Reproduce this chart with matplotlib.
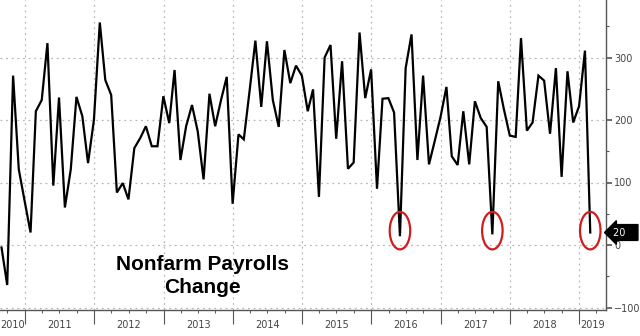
import matplotlib
matplotlib.use('Agg')
import matplotlib.pyplot as plt
import matplotlib.dates as mdates
from matplotlib.patches import Ellipse
import matplotlib.transforms as mtransforms
import pandas as pd

# monthly nonfarm payrolls change (thousands), Aug 2010 - Feb 2019
start_month = '2010-08-31'
payrolls = [
    -4, -64, 271, 121, 70,
    20, 214, 232, 323, 95, 236, 60, 121, 237, 206, 131, 200,
    356, 264, 240, 84, 99, 73, 155, 171, 190, 158, 158, 238,
    195, 280, 136, 190, 224, 182, 105, 242, 190, 232, 269, 66,
    177, 169, 248, 327, 221, 326, 232, 189, 312, 259, 287, 271,
    214, 249, 77, 300, 320, 170, 294, 122, 132, 340, 235, 281,
    90, 234, 235, 212, 14, 283, 337, 136, 271, 129, 166, 205,
    253, 142, 128, 214, 129, 230, 203, 189, 17, 262, 217, 175,
    173, 331, 183, 196, 271, 263, 178, 283, 109, 278, 196, 222,
    311, 20,
]
circled = [69, 85, 102]
last_label = '20'
title_lines = ['Nonfarm Payrolls', 'Change']
years = list(range(2010, 2020))

dates = pd.date_range(start_month, periods=len(payrolls), freq='ME')

fig = plt.figure(figsize=(6.4, 3.36), dpi=100)
ax = fig.add_axes([0, 26 / 336, 606 / 640, 310 / 336])

x_lo = pd.Timestamp('2010-08-23')
x_hi = pd.Timestamp('2019-05-22')
ax.set_xlim(x_lo, x_hi)
ax.set_ylim(-104, 392)

ax.plot(dates, payrolls, color='black', lw=1.6, solid_joinstyle='miter', zorder=3)

# grid
for yv in [-100, 0, 100, 200, 300]:
    ax.axhline(yv, color='#b8b8b8', lw=0.9, ls=(0, (1.5, 3)), zorder=1)
for yr in years[1:]:
    ax.axvline(pd.Timestamp(f'{yr}-01-01'), color='#b8b8b8', lw=0.9, ls=(0, (1.5, 3)), zorder=1)

# circles around the weak prints
for i in circled:
    ax.add_patch(Ellipse((mdates.date2num(dates[i]), 23), width=108, height=60,
                         fill=False, ec='#d01c1c', lw=1.6, zorder=4))

# spines and ticks
for s in ['top', 'left']:
    ax.spines[s].set_visible(False)
for s in ['right', 'bottom']:
    ax.spines[s].set_color('#555555')
    ax.spines[s].set_linewidth(1.0)

ax.yaxis.tick_right()
ax.set_yticks([-100, 0, 100, 200, 300])
ax.set_yticks([-50, 50, 150, 250, 350], minor=True)
ax.tick_params(axis='y', which='major', length=4, width=1.2, color='#555555',
               labelsize=7, labelcolor='#444444', pad=2)
ax.tick_params(axis='y', which='minor', length=2.5, width=0.8, color='#555555')

ax.set_xticks([pd.Timestamp(f'{y}-01-01') for y in years[1:]])
ax.set_xticks(pd.date_range('2010-10-01', '2019-04-01', freq='QS'), minor=True)
ax.tick_params(axis='x', which='major', length=10, width=0.8, color='#555555', labelbottom=False)
ax.tick_params(axis='x', which='minor', length=2.5, width=0.7, color='#555555')

# year labels centred on the visible part of each year
for yr in years:
    a = max(pd.Timestamp(f'{yr}-01-01'), x_lo)
    b = min(pd.Timestamp(f'{yr + 1}-01-01'), x_hi)
    mid = a + (b - a) / 2
    ax.text(mid, -0.05, str(yr), transform=ax.get_xaxis_transform(),
            ha='center', va='center', fontsize=7, color='#444444')

# last value tag
trans = mtransforms.blended_transform_factory(ax.transAxes, ax.transData)
ax.text(1.012, payrolls[-1], last_label + '   ', transform=trans, ha='left', va='center',
        fontsize=7, color='white',
        bbox=dict(boxstyle='larrow,pad=0.3', fc='black', ec='black'))

for k, line in enumerate(title_lines):
    fig.text(202 / 640, 1 - (270 + 23 * k) / 336, line, ha='center', va='baseline',
             fontsize=15, fontweight='bold', family=['Liberation Sans', 'DejaVu Sans'])

fig.savefig('out.png', dpi=100)
